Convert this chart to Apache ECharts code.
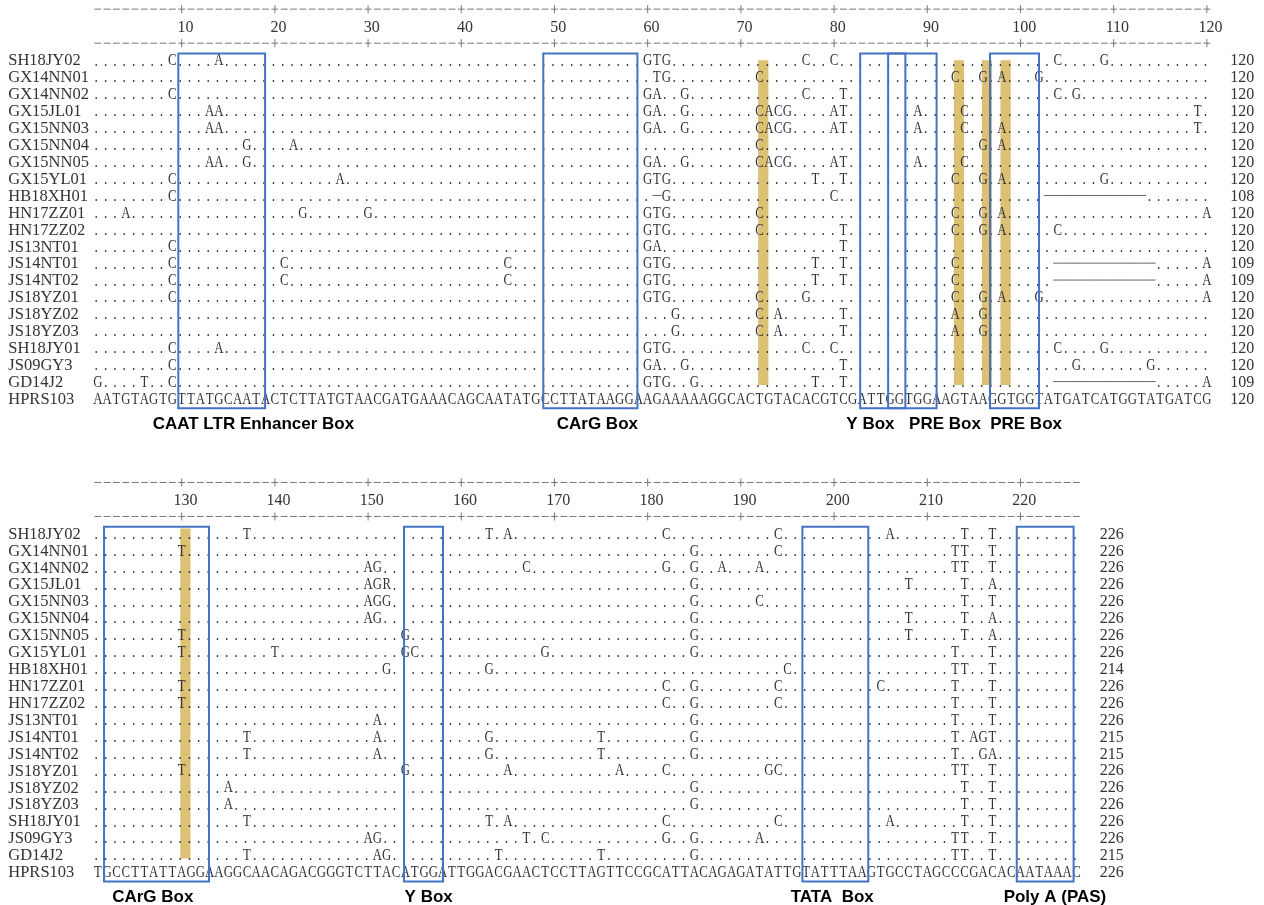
<!DOCTYPE html>
<html lang="en">
<head>
<meta charset="UTF-8">
<title>LTR alignment</title>
<script src="https://cdn.jsdelivr.net/npm/echarts@6/dist/echarts.min.js"></script>
<style>
  html, body { margin: 0; padding: 0; background: #fff; }
  #chart { width: 1264px; height: 905px; }
</style>
</head>
<body>
<div id="chart"></div>
<script>
// strains, top to bottom (HPRS103 is the reference row)
const strains = ['SH18JY02', 'GX14NN01', 'GX14NN02', 'GX15JL01', 'GX15NN03', 'GX15NN04', 'GX15NN05',
  'GX15YL01', 'HB18XH01', 'HN17ZZ01', 'HN17ZZ02', 'JS13NT01', 'JS14NT01', 'JS14NT02', 'JS18YZ01',
  'JS18YZ02', 'JS18YZ03', 'SH18JY01', 'JS09GY3', 'GD14J2', 'HPRS103'];

// HPRS103 sequence, positions 1-120 and 121-226
const refTop = 'AATGTAGTGTTATGCAATACTCTTATGTAACGATGAAACAGCAATATGCCTTATAAGGAAGAAAAAGGCACTGTACACGTCGATTGGTGGAAGTAAGGTGGTATGATCATGGTATGATCG';
const refBottom = 'TGCCTTATTAGGAAGGCAACAGACGGGTCTTACATGGATTGGACGAACTCCTTAGTTCCGCATTACAGAGATATTGTATTTAAGTGCCTAGCCCGACACAATAAAC';

// differences from HPRS103: position + base, '-' is a gap, a:b is a range
const diffTop = [
  '9C 14A 60G 61T 62G 77C 80C 104C 109G',
  '61T 62G 72C 93C 96G 98A 102G',
  '9C 60G 61A 64G 77C 81T 104C 106G',
  '13A 14A 60G 61A 64G 72C 73A 74C 75G 80A 81T 89A 94C 119T',
  '13A 14A 60G 61A 64G 72C 73A 74C 75G 80A 81T 89A 94C 98A 119T',
  '17G 22A 72C 96G 98A',
  '13A 14A 17G 60G 61A 64G 72C 73A 74C 75G 80A 81T 89A 94C',
  '9C 27A 60G 61T 62G 78T 81T 93C 96G 98A 109G',
  '9C 61- 62G 80C 103:113-',
  '4A 23G 30G 60G 61T 62G 72C 93C 96G 98A 120A',
  '60G 61T 62G 72C 81T 93C 96G 98A 104C',
  '9C 60G 61A 81T',
  '9C 21C 45C 60G 61T 62G 78T 81T 93C 104:114- 120A',
  '9C 21C 45C 60G 61T 62G 78T 81T 93C 104:114- 120A',
  '9C 60G 61T 62G 72C 77G 93C 96G 98A 102G 120A',
  '63G 72C 74A 81T 93A 96G',
  '63G 72C 74A 81T 93A 96G',
  '9C 14A 60G 61T 62G 77C 80C 104C 109G',
  '9C 60G 61A 64G 81T 106G 114G',
  '1G 6T 9C 60G 61T 62G 65G 78T 81T 104:114- 120A'
];
const diffBottom = [
  '137T 163T 165A 182C 194C 206A 214T 217T',
  '130T 185G 194C 213T 214T 217T',
  '150A 151G 167C 182G 185G 188A 192A 213T 214T 217T',
  '150A 151G 152R 185G 208T 214T 217A',
  '150A 151G 152G 185G 192C 214T 217T',
  '150A 151G 185G 208T 214T 217A',
  '130T 154G 185G 208T 214T 217A',
  '130T 140T 154G 155C 169G 185G 213T 217T',
  '152G 163G 195C 213T 214T 217T',
  '130T 182C 185G 194C 205C 213T 217T',
  '130T 182C 185G 194C 213T 217T',
  '151A 185G 213T 217T',
  '137T 151A 163G 175T 185G 213T 215A 216G 217T',
  '137T 151A 163G 175T 185G 213T 216G 217A',
  '130T 154G 165A 177A 182C 193G 194C 213T 214T 217T',
  '135A 185G 214T 217T',
  '135A 185G 214T 217T',
  '137T 163T 165A 182C 194C 206A 214T 217T',
  '150A 151G 167T 169C 182G 185G 192A 213T 214T 217T',
  '137T 151A 152G 164T 175T 185G 213T 214T 217T'
];

// sequence lengths at the end of each row
const lenTop = [120, 120, 120, 120, 120, 120, 120, 120, 108, 120, 120, 120, 109, 109, 120, 120, 120, 120, 120, 109, 120];
const lenBottom = [226, 226, 226, 226, 226, 226, 226, 226, 214, 226, 226, 226, 215, 215, 226, 226, 226, 226, 226, 215, 226];

// ruler tick labels
const rulerTop = [10, 20, 30, 40, 50, 60, 70, 80, 90, 100, 110, 120];
const rulerBottom = [130, 140, 150, 160, 170, 180, 190, 200, 210, 220];

// motif boxes (start, end in alignment columns) and their names
const boxesTop = [[9.64, 18.95], [48.8, 58.9], [82.8, 87.65], [85.8, 91.0], [96.73, 101.99]];
const boxesBottom = [[121.67, 132.93], [153.86, 158.04], [196.6, 203.67], [219.6, 225.7]];
const motifTop = [['CAAT LTR Enhancer Box', 17.7], ['CArG Box', 54.6], ['Y Box', 83.9], ['PRE Box', 91.9], ['PRE Box', 100.6]];
const motifBottom = [['CArG Box', 126.9], ['Y Box', 156.5], ['TATA  Box', 199.8], ['Poly A (PAS)', 223.7]];

// highlighted columns
const goldTop = [72, 93, 96, 98];
const goldBottom = [130];

const SERIF = '"Liberation Serif", "DejaVu Serif", serif';

function expand(diff, ref, start) {
  const s = Array.from(ref, () => '.');
  diff.split(' ').filter(Boolean).forEach(function (tok) {
    const ch = tok.slice(-1);
    const ab = tok.slice(0, -1).split(':').map(Number);
    const a = ab[0], b = ab.length > 1 ? ab[1] : ab[0];
    for (let p = a; p <= b; p++) s[p - start] = ch;
  });
  return s.join('');
}

function cellsFor(diffs, ref, start) {
  const rows = diffs.map(d => expand(d, ref, start)).concat([ref]);
  const out = [];
  rows.forEach(function (s, r) {
    for (let i = 0; i < s.length; i++) out.push([start + i, r, s[i]]);
  });
  return out;
}

function seqSeries(g, cells) {
  return {
    type: 'custom', xAxisIndex: g, yAxisIndex: g, silent: true, animation: false, z: 3,
    progressive: 0,
    data: cells.map(c => [c[0], c[1]]),
    encode: { x: 0, y: 1 },
    renderItem: function (params, api) {
      const c = cells[params.dataIndex];
      const p = api.coord([c[0], c[1]]);
      if (c[2] === '-') {
        const w = api.size([1, 0])[0];
        return { type: 'line', shape: { x1: p[0] - w / 2, y1: p[1] - 1, x2: p[0] + w / 2, y2: p[1] - 1 },
          style: { stroke: '#666', lineWidth: 1 } };
      }
      const dot = c[2] === '.';
      return { type: 'text', x: p[0] - (dot ? 1.5 : 0), y: p[1], scaleX: 0.8,
        style: { text: c[2], font: (dot ? '17px ' : '16px ') + SERIF, fill: '#333', align: 'center', verticalAlign: 'middle' } };
    }
  };
}

function textSeries(g, items, font, align, color) {
  return {
    type: 'custom', xAxisIndex: g, yAxisIndex: g, silent: true, animation: false, z: 5,
    data: items.map(d => [d[0], d[1]]),
    encode: { x: 0, y: 1 },
    renderItem: function (params, api) {
      const d = items[params.dataIndex];
      const p = api.coord([d[0], d[1]]);
      return { type: 'text', x: p[0], y: p[1],
        style: { text: String(d[2]), font: font, fill: color, align: align, verticalAlign: 'middle' } };
    }
  };
}

function rulerSeries(g, start, end) {
  const items = [];
  for (let c = start; c <= end; c++) { items.push([c, -3.07]); items.push([c, -1.06]); }
  return {
    type: 'custom', xAxisIndex: g, yAxisIndex: g, silent: true, animation: false,
    data: items, encode: { x: 0, y: 1 },
    renderItem: function (params, api) {
      const d = items[params.dataIndex];
      const p = api.coord(d);
      const kids = [{ type: 'line', shape: { x1: p[0] - 3.4, y1: p[1], x2: p[0] + 3.4, y2: p[1] },
        style: { stroke: '#777', lineWidth: 1 } }];
      if (d[0] % 10 === 0) {
        kids.push({ type: 'line', shape: { x1: p[0], y1: p[1] - 4, x2: p[0], y2: p[1] + 4 },
          style: { stroke: '#777', lineWidth: 1 } });
      }
      return { type: 'group', children: kids };
    }
  };
}

function boxSeries(g, boxes) {
  return {
    type: 'custom', xAxisIndex: g, yAxisIndex: g, silent: true, animation: false, z: 4,
    data: boxes.map(b => [b[0], 0]), encode: { x: 0, y: 1 },
    renderItem: function (params, api) {
      const b = boxes[params.dataIndex];
      const a = api.coord([b[0], -0.45]);
      const z = api.coord([b[1], 20.52]);
      return { type: 'rect', shape: { x: a[0], y: a[1], width: z[0] - a[0], height: z[1] - a[1] },
        style: { fill: 'none', stroke: '#4472c4', lineWidth: 2 } };
    }
  };
}

function goldSeries(g, cols, y0, y1) {
  return {
    type: 'custom', xAxisIndex: g, yAxisIndex: g, silent: true, animation: false, z: 2,
    data: cols.map(c => [c, 0]), encode: { x: 0, y: 1 },
    renderItem: function (params, api) {
      const c = cols[params.dataIndex];
      const a = api.coord([c - 0.15, y0]);
      const z = api.coord([c + 0.95, y1]);
      return { type: 'rect', shape: { x: a[0], y: a[1], width: z[0] - a[0], height: z[1] - a[1] },
        style: { fill: '#dcc074' } };
    }
  };
}

// rows run from -3.5 (ruler) to 21.9 (motif names); interval 0.5, labels only on whole rows
function panelAxes(g, lo) {
  return {
    x: { gridIndex: g, type: 'value', min: lo, max: lo + 126, show: false },
    y: {
      gridIndex: g, type: 'value', inverse: true, min: -3.5, max: 21.9, interval: 0.5,
      axisLine: { show: false }, axisTick: { show: false }, splitLine: { show: false },
      axisLabel: {
        show: true, align: 'left', margin: 80.2, color: '#333',
        fontFamily: 'Liberation Serif', fontSize: 16.5,
        showMinLabel: true, showMaxLabel: true,
        formatter: v => (v >= 0 && v < strains.length && v === Math.round(v)) ? strains[v] : ''
      }
    }
  };
}

const axesTop = panelAxes(0, 0);
const axesBot = panelAxes(1, 120);

const numFont = '16px ' + SERIF;
const motifFont = 'bold 17px "Liberation Sans", Arial, sans-serif';

const option = {
  animation: false,
  backgroundColor: '#fff',
  grid: [
    { left: 88.48, top: 1.88, width: 1174.32, height: 429.77 },
    { left: 88.48, top: 475.18, width: 1174.32, height: 429.77 }
  ],
  xAxis: [axesTop.x, axesBot.x],
  yAxis: [axesTop.y, axesBot.y],
  series: [
    goldSeries(0, goldTop, -0.05, 19.15),
    goldSeries(1, goldBottom, -0.35, 19.15),
    seqSeries(0, cellsFor(diffTop, refTop, 1)),
    seqSeries(1, cellsFor(diffBottom, refBottom, 121)),
    boxSeries(0, boxesTop),
    boxSeries(1, boxesBottom),
    rulerSeries(0, 1, refTop.length),
    rulerSeries(1, 121, 120 + refBottom.length),
    textSeries(0, rulerTop.map(n => [n + 0.4, -1.98, n]), numFont, 'center', '#333'),
    textSeries(1, rulerBottom.map(n => [n + 0.4, -1.98, n]), numFont, 'center', '#333'),
    textSeries(0, lenTop.map((n, r) => [refTop.length + 2.5, r, n]), numFont, 'left', '#333'),
    textSeries(1, lenBottom.map((n, r) => [120 + refBottom.length + 2.5, r, n]), numFont, 'left', '#333'),
    textSeries(0, motifTop.map(m => [m[1], 21.47, m[0]]), motifFont, 'center', '#000'),
    textSeries(1, motifBottom.map(m => [m[1], 21.47, m[0]]), motifFont, 'center', '#000')
  ]
};

const chart = echarts.init(document.getElementById('chart'));
chart.setOption(option);
</script>
</body>
</html>
